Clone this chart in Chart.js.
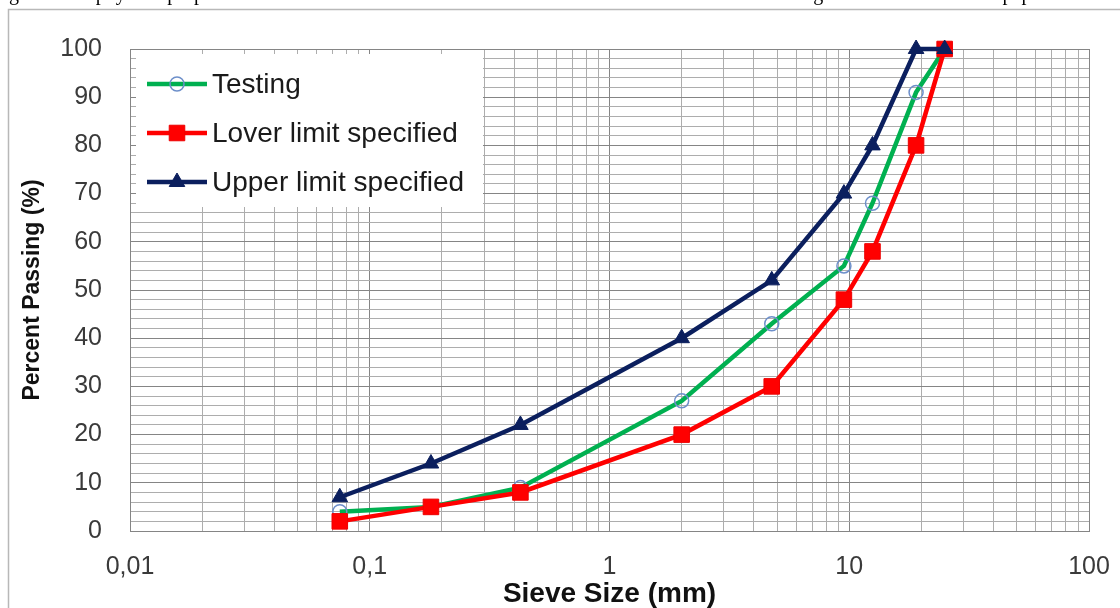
<!DOCTYPE html>
<html><head><meta charset="utf-8">
<script src="https://cdn.jsdelivr.net/npm/chart.js@4.4.1/dist/chart.umd.min.js"></script>
<style>
html,body{margin:0;padding:0;background:#fff;width:1120px;height:608px;overflow:hidden;}
#wrap{position:relative;width:1120px;height:608px;overflow:hidden;}
#c{position:absolute;left:0;top:0;}
#cut{position:absolute;left:0px;top:-17px;font-family:"Liberation Serif",serif;font-size:20px;line-height:20px;white-space:nowrap;color:#000;}
</style></head><body>
<div id="wrap"><canvas id="c" width="1120" height="608"></canvas><div id="cut">egates. The physical properties of the material used as the fine mixture in the test were determined as given in Table 3 of this paper.</div></div>
<script>
// ---- data ----
const sieveSizes = [0.075, 0.18, 0.425, 2, 4.75, 9.5, 12.5, 19, 25];
const testing    = [4, 5, 9, 27, 43, 55, 68, 91, 100];
const lowerLimit = [2, 5, 8, 20, 30, 48, 58, 80, 100];
const upperLimit = [7, 14, 22, 40, 52, 70, 80, 100, 100];
const seriesNames = ['Testing', 'Lover limit specified', 'Upper limit specified'];
const xTickValues = [0.01, 0.1, 1, 10, 100];
const xTickLabels = ['0,01', '0,1', '1', '10', '100'];
const yTickValues = [0, 10, 20, 30, 40, 50, 60, 70, 80, 90, 100];
const yTickLabels = ['0', '10', '20', '30', '40', '50', '60', '70', '80', '90', '100'];
const xAxisTitle = 'Sieve Size (mm)';
const yAxisTitle = 'Percent Passing (%)';

const pts = arr => sieveSizes.map((s, i) => ({x: s, y: arr[i]}));
const isDecade = v => Math.abs(Math.log10(v) - Math.round(Math.log10(v))) < 1e-9;

const MAJOR = '#858585', MINOR = '#adadad';

const frame = {
  id: 'frame',
  beforeDraw(chart) {
    const ctx = chart.ctx;
    ctx.save();
    ctx.fillStyle = '#fff';
    ctx.fillRect(0, 0, chart.width, chart.height);
    ctx.strokeStyle = '#b8b8b8';
    ctx.lineWidth = 1.5;
    ctx.beginPath();
    ctx.moveTo(8.5, chart.height);
    ctx.lineTo(8.5, 9.5);
    ctx.lineTo(chart.width, 9.5);
    ctx.stroke();
    ctx.restore();
  }
};

const legendBox = {
  id: 'legendBox',
  afterDraw(chart) {
    const ctx = chart.ctx;
    const a = chart.chartArea;
    ctx.save();
    ctx.fillStyle = '#fff';
    ctx.fillRect(a.left + 6, a.top + 5, 347, 153);
    const order = [0, 1, 2];
    order.forEach((di, i) => {
      const ds = chart.data.datasets[di];
      const y = a.top + 35 + i * 49;
      ctx.strokeStyle = ds.borderColor;
      ctx.lineWidth = ds.borderWidth;
      ctx.beginPath();
      ctx.moveTo(a.left + 17, y);
      ctx.lineTo(a.left + 77, y);
      ctx.stroke();
      ctx.fillStyle = ds.pointBackgroundColor;
      ctx.strokeStyle = ds.pointBorderColor;
      ctx.lineWidth = ds.pointBorderWidth;
      Chart.helpers.drawPoint(ctx, {pointStyle: ds.pointStyle, radius: ds.pointRadius, borderWidth: ds.pointBorderWidth, rotation: 0}, a.left + 47, y);
      ctx.fillStyle = '#1a1a1a';
      ctx.font = '28px "Liberation Sans", Arial, sans-serif';
      ctx.textBaseline = 'middle';
      ctx.textAlign = 'left';
      ctx.fillText(ds.label, a.left + 82, y + 1);
    });
    ctx.restore();
  }
};

new Chart(document.getElementById('c'), {
  type: 'line',
  data: {
    datasets: [
      {label: seriesNames[0], data: pts(testing), borderColor: '#00b050', borderWidth: 4.5,
       pointStyle: 'circle', pointRadius: 7, pointBorderColor: '#6d8fca', pointBackgroundColor: 'rgba(255,255,255,0)',
       pointBorderWidth: 1.5, order: 2, clip: false},
      {label: seriesNames[1], data: pts(lowerLimit), borderColor: '#ff0000', borderWidth: 4.5,
       pointStyle: 'rect', pointRadius: 11, pointBorderColor: '#ee0000', pointBackgroundColor: '#ff0000',
       pointBorderWidth: 1, order: 1, clip: false},
      {label: seriesNames[2], data: pts(upperLimit), borderColor: '#0b1f5e', borderWidth: 4.5,
       pointStyle: 'triangle', pointRadius: 9, pointBorderColor: '#0b1f5e', pointBackgroundColor: '#0b1f5e',
       pointBorderWidth: 1, order: 0, clip: false}
    ]
  },
  options: {
    responsive: false,
    animation: false,
    devicePixelRatio: 1,
    layout: {padding: {left: 0, top: 49, right: 31, bottom: 0}},
    plugins: {legend: {display: false}, tooltip: {enabled: false}},
    elements: {line: {tension: 0}},
    scales: {
      x: {
        type: 'logarithmic', min: 0.01, max: 100,
        afterFit: s => { s.height = 77; s.paddingLeft = 0; s.paddingRight = 0; },
        afterBuildTicks: s => {
          const t = [];
          for (let d = 0; d < xTickValues.length - 1; d++) {
            for (let m = 1; m <= 9; m++) t.push({value: xTickValues[d] * m});
          }
          t.push({value: xTickValues[xTickValues.length - 1]});
          s.ticks = t;
        },
        ticks: {
          autoSkip: false, maxRotation: 0, padding: 21,
          color: '#3a3a3a', font: {family: '"Liberation Sans", Arial, sans-serif', size: 25},
          callback: v => {
            if (!isDecade(v)) return '';
            const i = xTickValues.findIndex(d => Math.abs(d - v) / d < 1e-6);
            return i >= 0 ? xTickLabels[i] : '';
          }
        },
        grid: {drawTicks: false, lineWidth: 1, color: c => (c.tick && isDecade(c.tick.value)) ? MAJOR : MINOR},
        border: {display: true, color: MAJOR, width: 1},
        title: {display: true, text: xAxisTitle, color: '#111',
          font: {family: '"Liberation Sans", Arial, sans-serif', size: 28, weight: 'bold', lineHeight: 1},
          padding: {top: 0, bottom: 0}}
      },
      y: {
        type: 'linear', min: 0, max: 100,
        afterFit: s => { s.width = 130; s.paddingTop = 0; s.paddingBottom = 0; },
        ticks: {
          stepSize: 2, autoSkip: false, padding: 28,
          color: '#3a3a3a', font: {family: '"Liberation Sans", Arial, sans-serif', size: 25},
          callback: v => {
            const i = yTickValues.indexOf(v);
            return i >= 0 ? yTickLabels[i] : '';
          }
        },
        grid: {drawTicks: false, lineWidth: 1, color: c => (c.tick && c.tick.value % 10 === 0) ? MAJOR : MINOR},
        border: {display: true, color: MAJOR, width: 1},
        title: {display: true, text: yAxisTitle, color: '#111',
          font: {family: '"Liberation Sans", Arial, sans-serif', size: 23, weight: 'bold', lineHeight: 1.2},
          padding: {top: 19, bottom: 0}}
      }
    }
  },
  plugins: [frame, legendBox]
});
</script>
</body></html>
